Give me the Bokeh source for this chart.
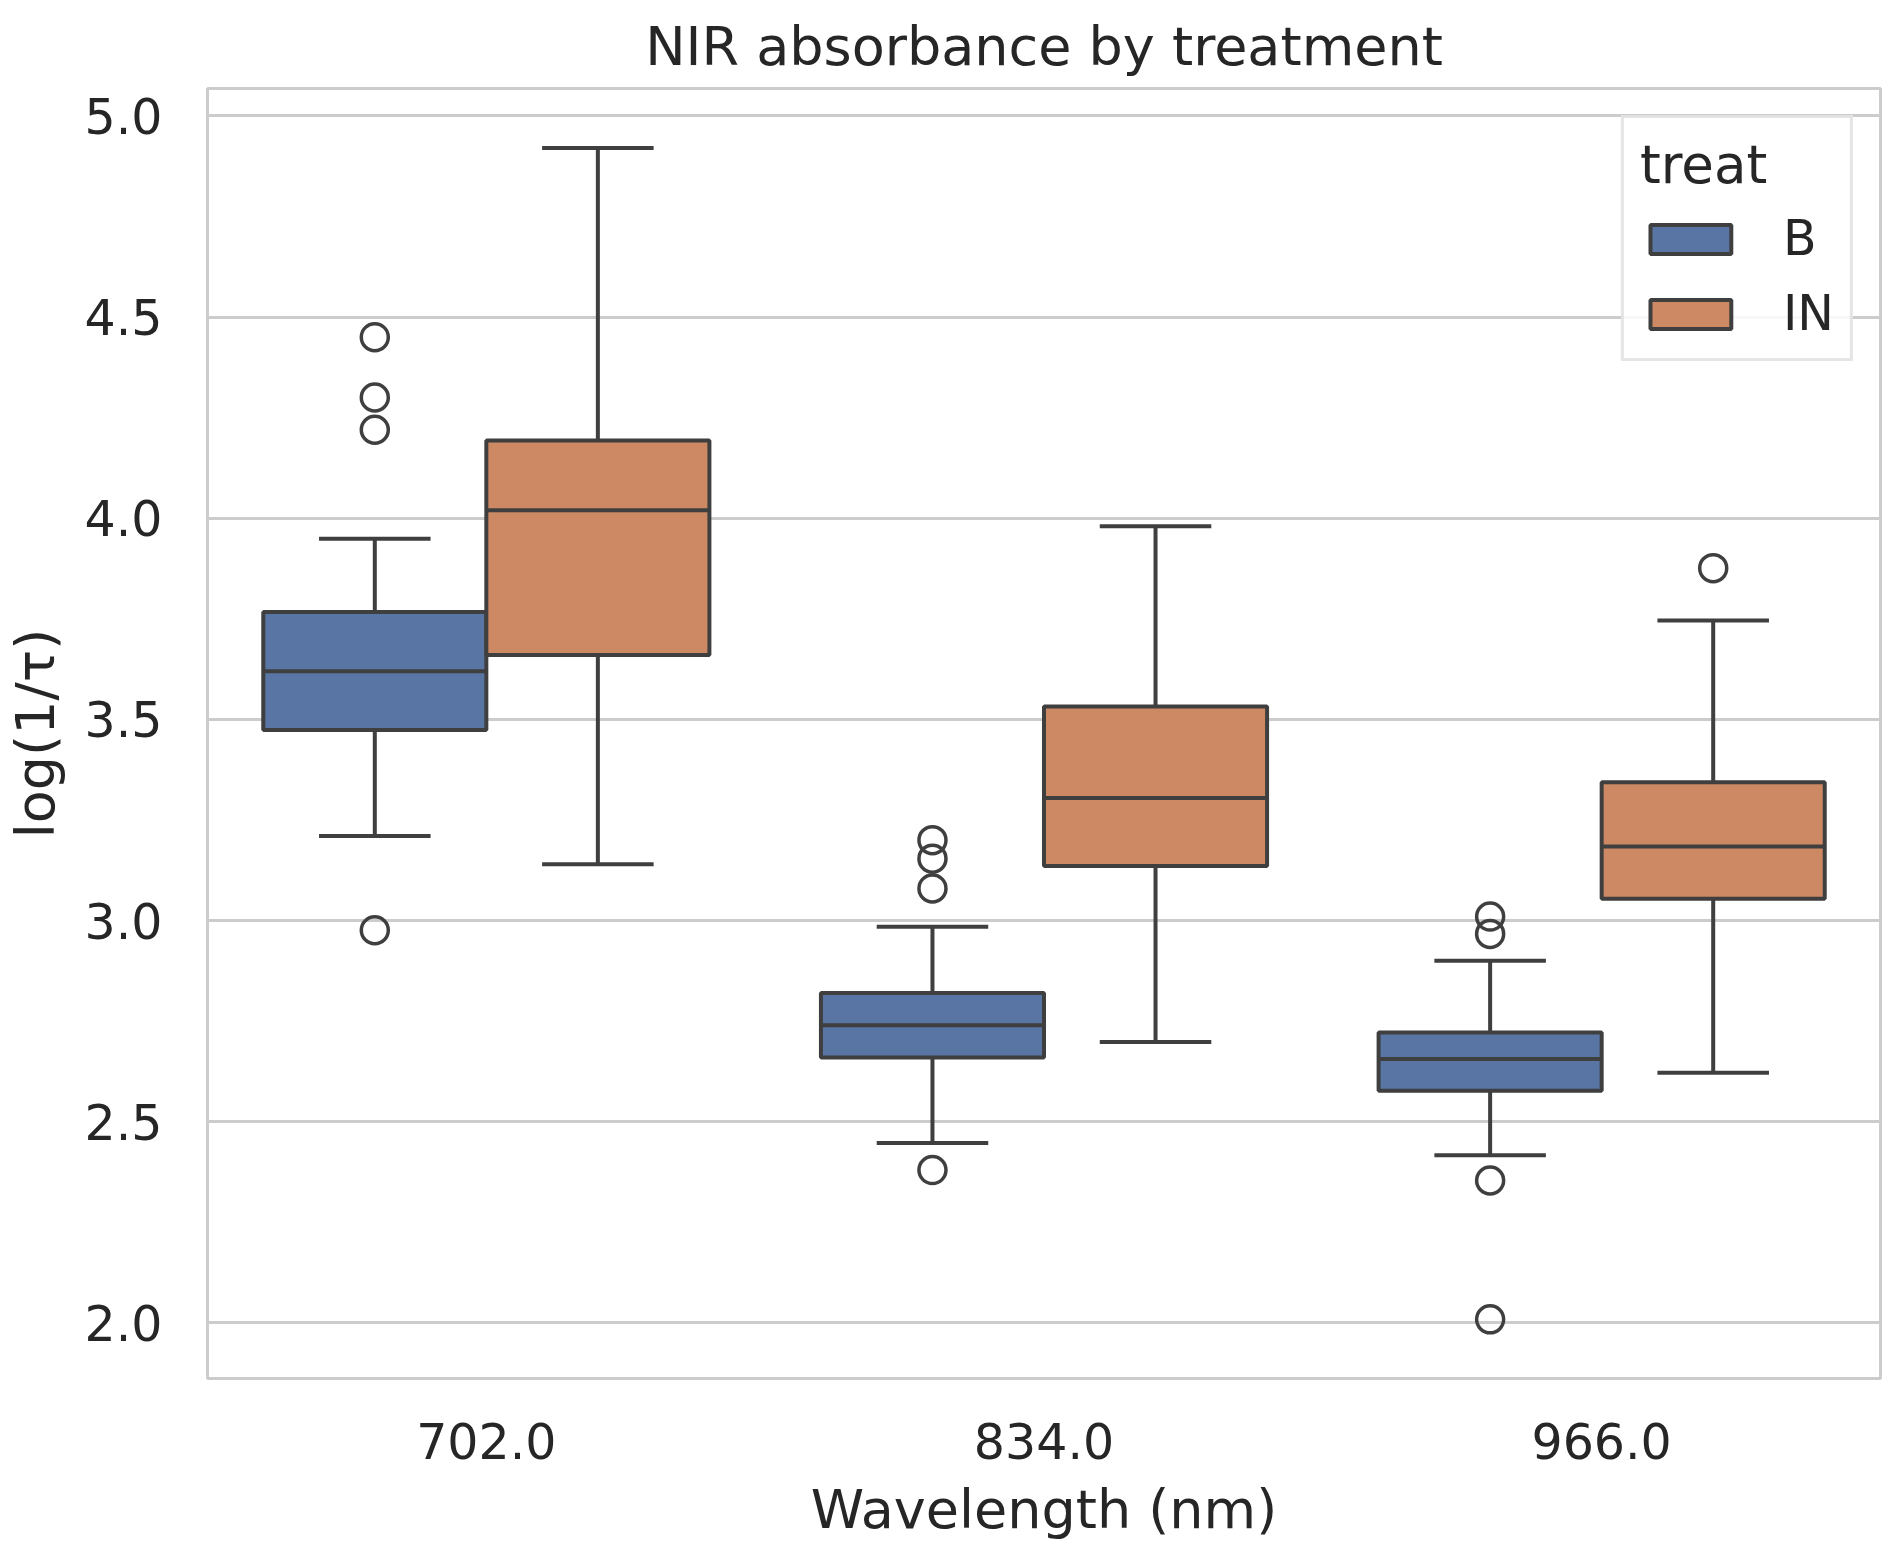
from bokeh.plotting import figure
from bokeh.models import (ColumnDataSource, FactorRange, Range1d, FixedTicker,
                          PrintfTickFormatter, Legend, LegendItem)
from bokeh.transform import dodge
from bokeh.embed import file_html
from bokeh.resources import INLINE

# Boxplot de absorbância NIR por tratamento

wavelengths = ["702.0", "834.0", "966.0"]
treatments = ["B", "IN"]

b_low = [3.21, 2.447, 2.417]
b_q1 = [3.474, 2.66, 2.577]
b_median = [3.62, 2.74, 2.656]
b_q3 = [3.767, 2.82, 2.722]
b_high = [3.949, 2.985, 2.90]

in_low = [3.14, 2.698, 2.622]
in_q1 = [3.66, 3.136, 3.054]
in_median = [4.02, 3.305, 3.184]
in_q3 = [4.193, 3.532, 3.344]
in_high = [4.92, 3.98, 3.746]

b_out_wl = ["702.0", "702.0", "702.0", "702.0",
            "834.0", "834.0", "834.0", "834.0",
            "966.0", "966.0", "966.0", "966.0"]
b_out_val = [4.45, 4.30, 4.22, 2.976,
             3.20, 3.154, 3.08, 2.38,
             3.01, 2.967, 2.354, 2.009]
in_out_wl = ["966.0"]
in_out_val = [3.876]

colors = {"B": "#5975A4", "IN": "#CC8963"}
line_col = "#3f3f3f"
text_col = "#262626"
font = "DejaVu Sans"

p = figure(width=1887, height=1548, x_range=FactorRange(*wavelengths, range_padding=0),
           y_range=Range1d(1.862, 5.068), output_backend="svg", toolbar_location=None,
           title="NIR absorbance by treatment",
           min_border_left=197, min_border_right=7, min_border_top=88, min_border_bottom=170)

p.title.text_font = font
p.title.text_font_size = "54px"
p.title.text_font_style = "normal"
p.title.text_color = text_col
p.title.align = "center"
p.title.standoff = 22

p.outline_line_color = "#cccccc"
p.outline_line_width = 3
p.xgrid.visible = False
p.ygrid.grid_line_color = "#cccccc"
p.ygrid.grid_line_width = 3

p.yaxis.ticker = FixedTicker(ticks=[2.0, 2.5, 3.0, 3.5, 4.0, 4.5, 5.0])
p.yaxis.formatter = PrintfTickFormatter(format="%.1f")

for ax in [p.xaxis[0], p.yaxis[0]]:
    ax.axis_line_color = None
    ax.major_tick_line_color = None
    ax.minor_tick_line_color = None
    ax.major_label_text_font = font
    ax.major_label_text_font_size = "49px"
    ax.major_label_text_color = text_col
    ax.axis_label_text_font = font
    ax.axis_label_text_font_size = "54px"
    ax.axis_label_text_font_style = "normal"
    ax.axis_label_text_color = text_col

p.xaxis.axis_label = "Wavelength (nm)"
p.yaxis.axis_label = "log(1/τ)"
p.xaxis.major_label_standoff = 38
p.xaxis.axis_label_standoff = 16
p.yaxis.major_label_standoff = 39
p.yaxis.axis_label_standoff = 15

stats = {
    "B": (b_low, b_q1, b_median, b_q3, b_high, b_out_wl, b_out_val, -0.2),
    "IN": (in_low, in_q1, in_median, in_q3, in_high, in_out_wl, in_out_val, 0.2),
}

items = []
for t in treatments:
    low, q1, med, q3, high, owl, oval, off = stats[t]
    src = ColumnDataSource(dict(wl=wavelengths, low=low, q1=q1, med=med, q3=q3, high=high))

    # bigodes
    p.segment(x0=dodge("wl", off, range=p.x_range), y0="high",
              x1=dodge("wl", off, range=p.x_range), y1="q3",
              source=src, line_color=line_col, line_width=4)
    p.segment(x0=dodge("wl", off, range=p.x_range), y0="q1",
              x1=dodge("wl", off, range=p.x_range), y1="low",
              source=src, line_color=line_col, line_width=4)
    p.segment(x0=dodge("wl", off - 0.1, range=p.x_range), y0="high",
              x1=dodge("wl", off + 0.1, range=p.x_range), y1="high",
              source=src, line_color=line_col, line_width=4)
    p.segment(x0=dodge("wl", off - 0.1, range=p.x_range), y0="low",
              x1=dodge("wl", off + 0.1, range=p.x_range), y1="low",
              source=src, line_color=line_col, line_width=4)

    # caixa
    box = p.vbar(x=dodge("wl", off, range=p.x_range), width=0.4, top="q3", bottom="q1",
                 source=src, fill_color=colors[t], line_color=line_col, line_width=4)
    p.segment(x0=dodge("wl", off - 0.2, range=p.x_range), y0="med",
              x1=dodge("wl", off + 0.2, range=p.x_range), y1="med",
              source=src, line_color=line_col, line_width=4)

    # outliers
    osrc = ColumnDataSource(dict(wl=owl, val=oval))
    p.scatter(x=dodge("wl", off, range=p.x_range), y="val", source=osrc, marker="circle",
              size=27, fill_alpha=0, line_color=line_col, line_width=3.5)

    items.append(LegendItem(label=t, renderers=[box]))

legend = Legend(items=items, location="top_right", title="treat")
legend.margin = 27
legend.padding = 16
legend.spacing = 18
legend.glyph_width = 101
legend.glyph_height = 36
legend.label_height = 56
legend.label_standoff = 42
legend.label_text_font = font
legend.label_text_font_size = "49px"
legend.label_text_color = text_col
legend.title_text_font = font
legend.title_text_font_size = "53px"
legend.title_text_font_style = "normal"
legend.title_text_color = text_col
legend.title_standoff = 15
legend.border_line_color = "#cccccc"
legend.border_line_width = 3
legend.background_fill_alpha = 0.85
p.add_layout(legend)

open("out.html", "w").write(file_html(p, INLINE))
